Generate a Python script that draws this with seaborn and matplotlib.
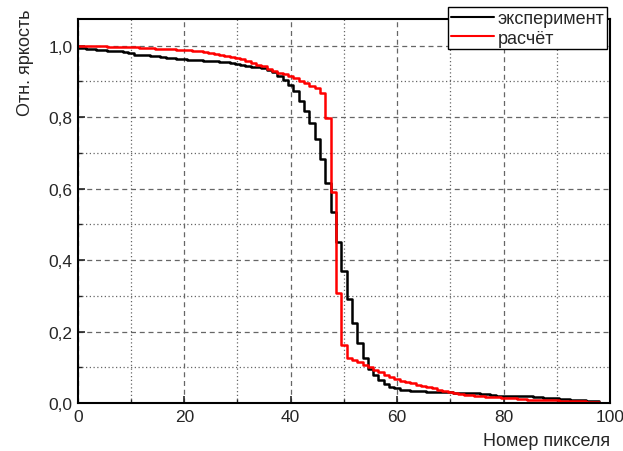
import numpy as np
import pandas as pd
import seaborn as sns
import matplotlib.pyplot as plt
from matplotlib.ticker import MultipleLocator, FuncFormatter

# pixel index
pixels = list(range(99))

# measured relative brightness
experiment = [
    0.993, 0.993, 0.990, 0.990, 0.989, 0.988, 0.986, 0.985, 0.984, 0.983,
    0.980, 0.975, 0.974, 0.973, 0.971, 0.970, 0.968, 0.966, 0.965, 0.964,
    0.963, 0.961, 0.960, 0.960, 0.958, 0.957, 0.956, 0.955, 0.954, 0.952,
    0.950, 0.947, 0.944, 0.941, 0.940, 0.937, 0.932, 0.925, 0.916, 0.905,
    0.890, 0.872, 0.846, 0.818, 0.784, 0.738, 0.684, 0.616, 0.536, 0.452,
    0.370, 0.291, 0.223, 0.169, 0.127, 0.095, 0.078, 0.064, 0.054, 0.046,
    0.041, 0.038, 0.036, 0.035, 0.034, 0.033, 0.032, 0.031, 0.030, 0.030,
    0.030, 0.029, 0.028, 0.028, 0.027, 0.027, 0.026, 0.025, 0.023, 0.021,
    0.020, 0.019, 0.019, 0.019, 0.019, 0.019, 0.018, 0.016, 0.015, 0.014,
    0.013, 0.012, 0.011, 0.010, 0.009, 0.008, 0.007, 0.006, 0.005,
]

# calculated relative brightness
calculation = [
    1.000, 1.000, 0.999, 0.999, 0.998, 0.998, 0.997, 0.997, 0.996, 0.996,
    0.995, 0.995, 0.994, 0.993, 0.993, 0.992, 0.991, 0.991, 0.990, 0.989,
    0.989, 0.988, 0.986, 0.984, 0.982, 0.980, 0.978, 0.975, 0.972, 0.969,
    0.966, 0.962, 0.957, 0.952, 0.947, 0.942, 0.936, 0.930, 0.924, 0.920,
    0.916, 0.909, 0.902, 0.895, 0.888, 0.881, 0.868, 0.797, 0.591, 0.308,
    0.163, 0.126, 0.120, 0.114, 0.107, 0.100, 0.093, 0.086, 0.079, 0.074,
    0.068, 0.063, 0.059, 0.055, 0.052, 0.049, 0.045, 0.041, 0.037, 0.033,
    0.030, 0.028, 0.026, 0.024, 0.022, 0.020, 0.019, 0.018, 0.017, 0.016,
    0.015, 0.014, 0.013, 0.012, 0.011, 0.010, 0.010, 0.009, 0.009, 0.008,
    0.008, 0.007, 0.006, 0.006, 0.005, 0.005, 0.004, 0.003, 0.002,
]

series_names = ['эксперимент', 'расчёт']
series_colors = ['black', 'red']

df = pd.concat([
    pd.DataFrame({'x': pixels, 'y': experiment, 'series': series_names[0]}),
    pd.DataFrame({'x': pixels, 'y': calculation, 'series': series_names[1]}),
])

sns.set_style('ticks')
plt.rcParams['font.family'] = ['Liberation Sans', 'DejaVu Sans']

fig = plt.figure(figsize=(6.23, 4.52), dpi=100)
ax = fig.add_axes([0.125, 0.106, 0.854, 0.850])

sns.lineplot(data=df, x='x', y='y', hue='series', hue_order=series_names,
             palette=dict(zip(series_names, series_colors)),
             drawstyle='steps-mid', linewidth=1.8, ax=ax, legend=False)

ax.set_xlim(0, 100)
ax.set_ylim(0, 1.075)
ax.xaxis.set_major_locator(MultipleLocator(20))
ax.xaxis.set_minor_locator(MultipleLocator(10))
ax.yaxis.set_major_locator(MultipleLocator(0.2))
ax.yaxis.set_minor_locator(MultipleLocator(0.1))
ax.yaxis.set_major_formatter(FuncFormatter(lambda v, p: f'{v:.1f}'.replace('.', ',')))

ax.grid(which='major', linestyle=(0, (4, 3)), color='#666666', linewidth=0.9)
ax.grid(which='minor', linestyle=(0, (1, 2)), color='#666666', linewidth=0.9)
ax.set_axisbelow(True)

ax.tick_params(which='major', direction='in', length=5, width=1.2, labelsize=12.5, pad=4)
ax.tick_params(which='minor', direction='in', length=3, width=1.0)
for s in ax.spines.values():
    s.set_linewidth(1.5)
    s.set_color('black')

ax.set_xlabel('Номер пикселя', fontsize=13, loc='right', labelpad=6)
ax.set_ylabel('Отн. яркость', fontsize=13, loc='top')
ax.yaxis.set_label_coords(-0.083, 1.026)

handles = [plt.Line2D([], [], color=c, linewidth=1.5) for c in series_colors]
leg = ax.legend(handles, series_names, loc='upper right',
                bbox_to_anchor=(0.975, 0.982), bbox_transform=fig.transFigure,
                borderaxespad=0, fancybox=False, framealpha=1, edgecolor='black',
                fontsize=13, handlelength=2.4, handletextpad=0.2,
                labelspacing=0.15, borderpad=0.15)
leg.get_frame().set_linewidth(1.0)
leg.set_clip_on(False)

fig.savefig('out.png', dpi=100)
